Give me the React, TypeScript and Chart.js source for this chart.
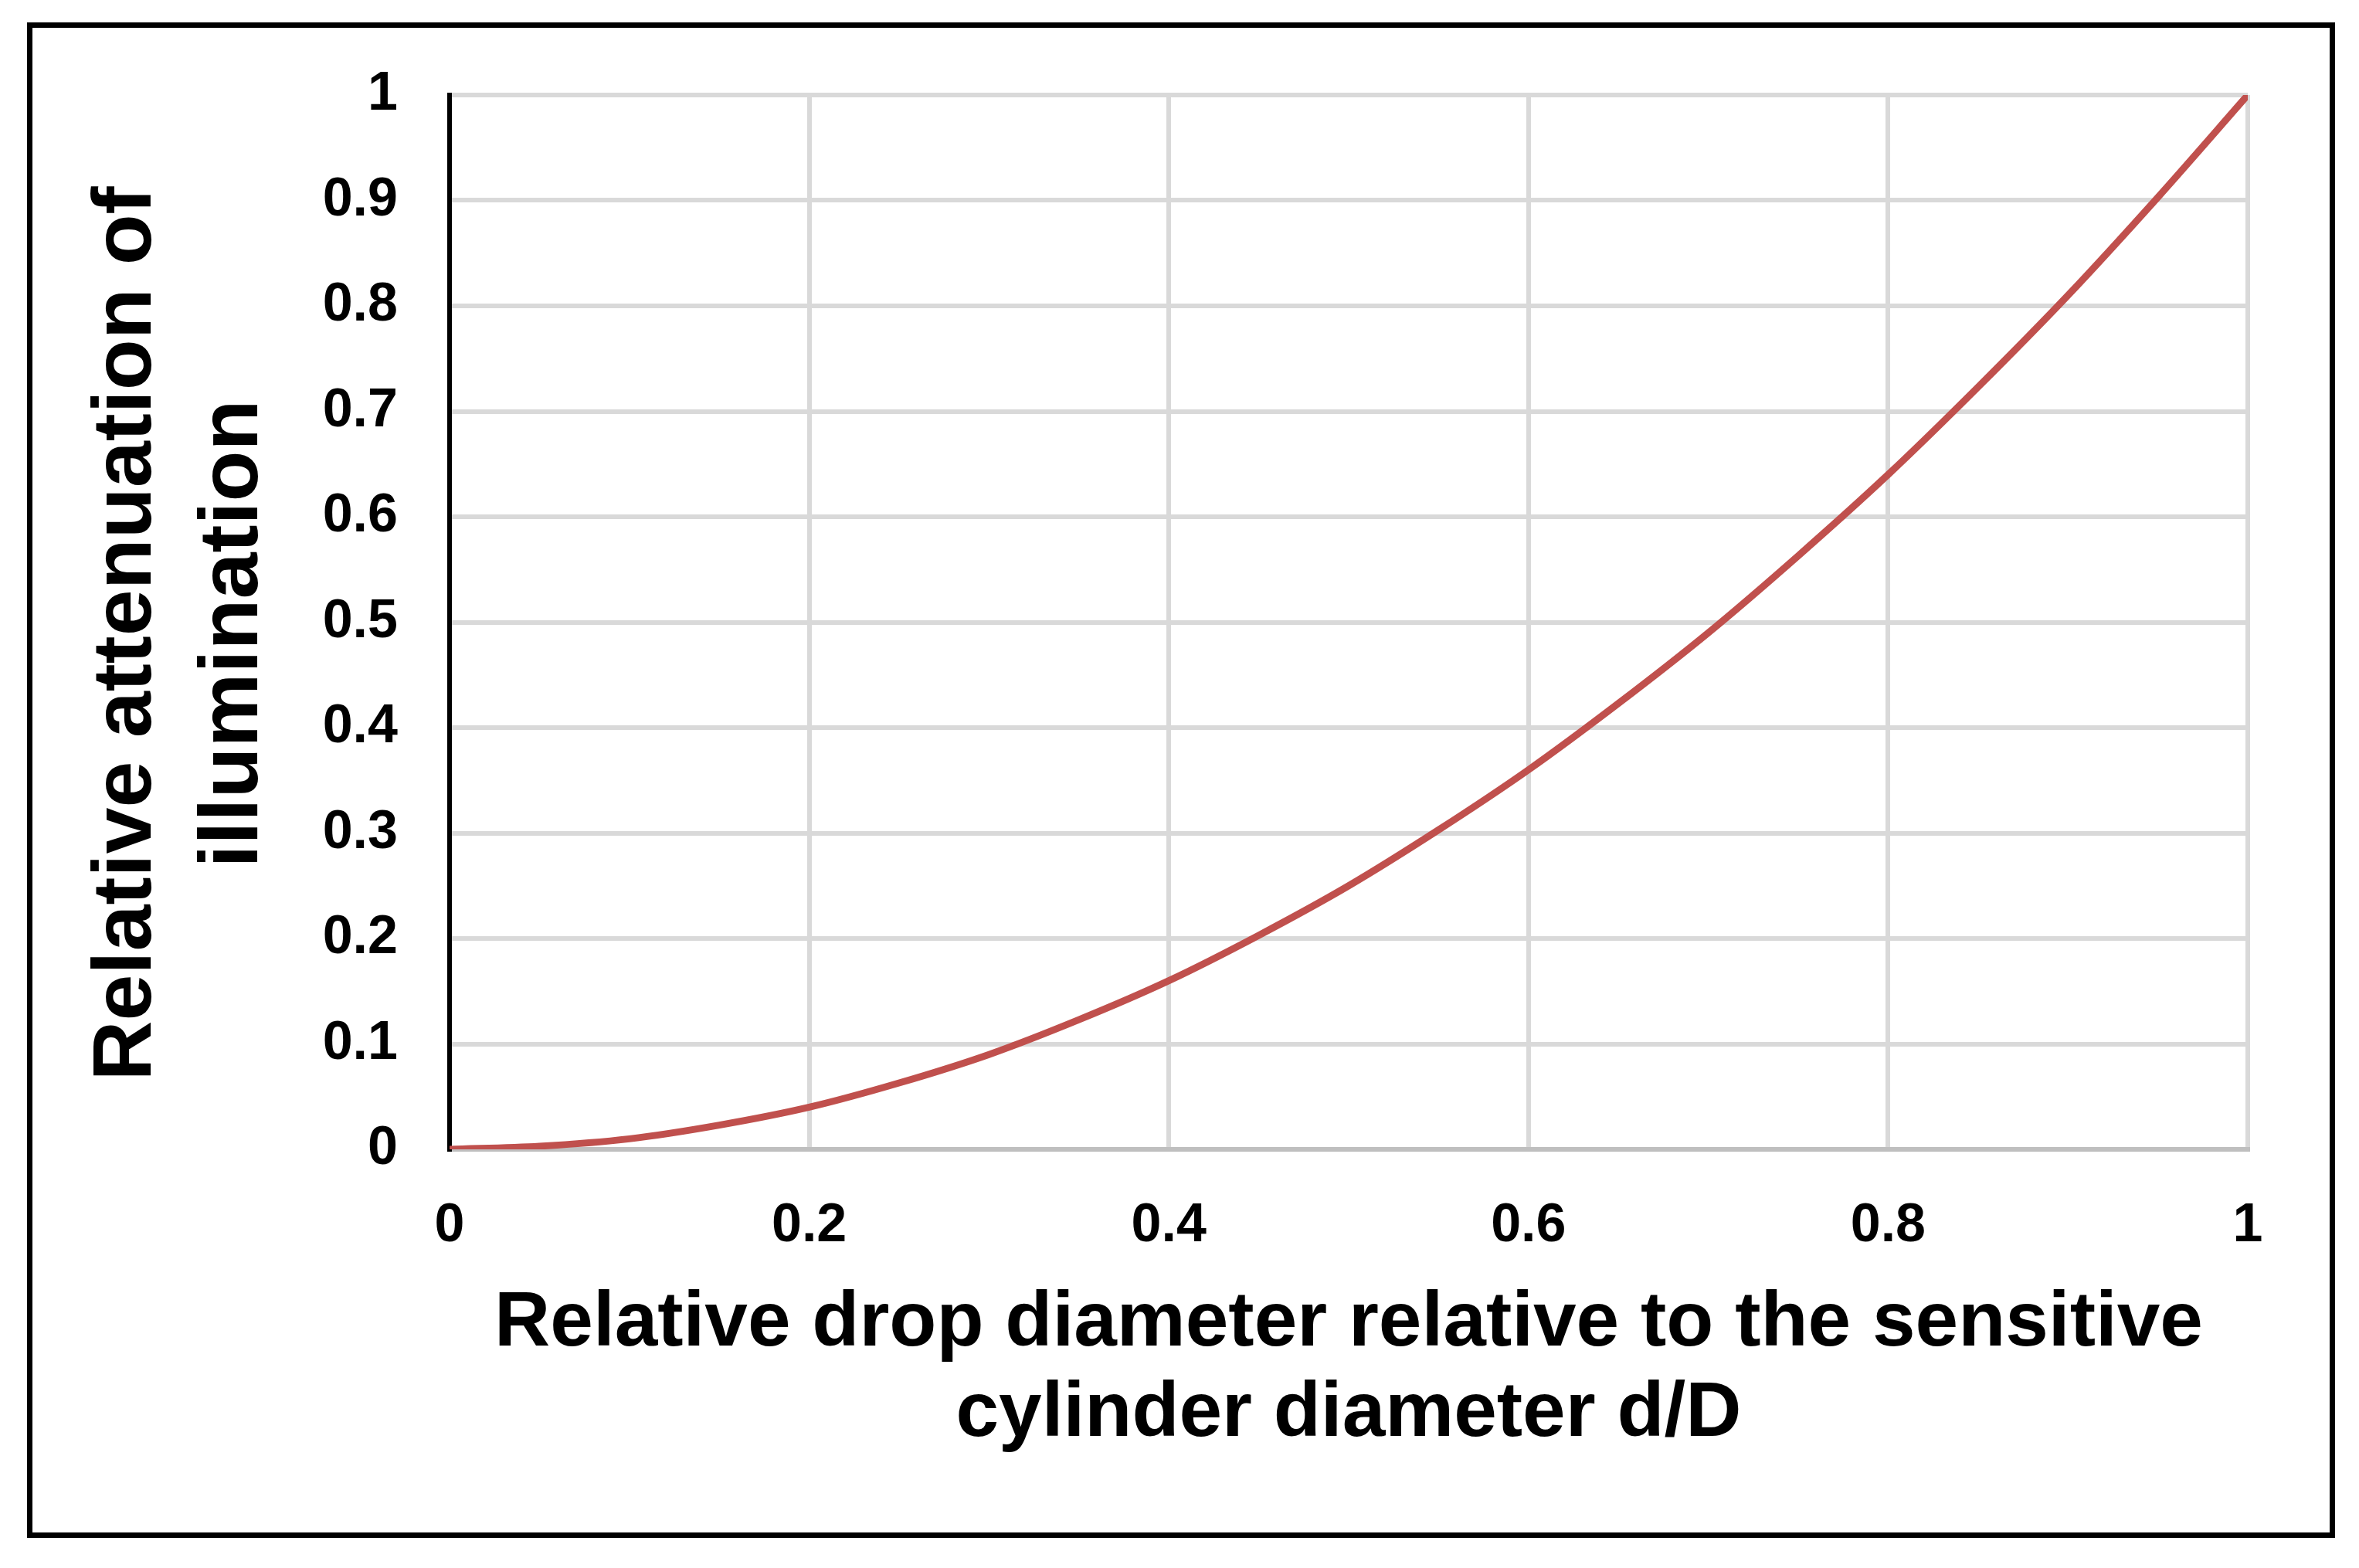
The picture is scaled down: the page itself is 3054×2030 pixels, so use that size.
import React, { useEffect, useRef } from "react";
import { Chart, registerables } from "chart.js";

Chart.register(...registerables);

const xValues = [0, 0.05, 0.1, 0.15, 0.2, 0.25, 0.3, 0.35, 0.4, 0.45, 0.5, 0.55, 0.6, 0.65, 0.7, 0.75, 0.8, 0.85, 0.9, 0.95, 1];
const yValues = [0, 0.003, 0.01, 0.023, 0.04, 0.063, 0.09, 0.123, 0.16, 0.203, 0.25, 0.303, 0.36, 0.423, 0.49, 0.563, 0.64, 0.723, 0.81, 0.903, 1];
const xTitle = ["Relative drop diameter relative to the sensitive", "cylinder diameter d/D"];
const yTitle = ["Relative attenuation of ", "illumination "];
const seriesColor = "#c0504d";

const W = 2974;
const H = 1948;

export default function App() {
  const ref = useRef<HTMLCanvasElement | null>(null);

  useEffect(() => {
    document.body.style.margin = "0";
    const canvas = ref.current!;
    const chart = new Chart(canvas, {
      type: "line",
      data: {
        datasets: [
          {
            data: xValues.map((x, i) => ({ x, y: yValues[i] })),
            borderColor: seriesColor,
            borderWidth: 9,
            pointRadius: 0,
            tension: 0.4,
            cubicInterpolationMode: "monotone",
            fill: false,
          },
        ],
      },
      options: {
        animation: false,
        responsive: false,
        maintainAspectRatio: false,
        devicePixelRatio: 1,
        layout: { padding: { top: 87, right: 106, left: 0, bottom: 0 } },
        plugins: { legend: { display: false }, tooltip: { enabled: false } },
        scales: {
          x: {
            type: "linear",
            min: 0,
            max: 1,
            afterFit: (s: any) => {
              s.height = 496;
              s.paddingLeft = 0;
              s.paddingRight = 0;
            },
            ticks: {
              stepSize: 0.2,
              padding: 58,
              color: "#000",
              font: { family: "'Liberation Sans', Arial, sans-serif", size: 70, weight: "bold" },
              maxRotation: 0,
              callback: (v: any) => String(Math.round(Number(v) * 10) / 10),
            },
            grid: { color: "#d9d9d9", lineWidth: 6, drawTicks: false },
            border: { color: "#bfbfbf", width: 6 },
            title: {
              display: true,
              text: xTitle,
              color: "#000",
              font: { family: "'Liberation Sans', Arial, sans-serif", size: 100, weight: "bold", lineHeight: 1.17 },
              padding: { top: 0, bottom: 94 },
            },
          },
          y: {
            type: "linear",
            min: 0,
            max: 1,
            afterFit: (s: any) => {
              s.width = 540;
              s.paddingTop = 0;
              s.paddingBottom = 0;
            },
            ticks: {
              stepSize: 0.1,
              padding: 67,
              color: "#000",
              font: { family: "'Liberation Sans', Arial, sans-serif", size: 70, weight: "bold" },
              callback: (v: any) => String(Math.round(Number(v) * 10) / 10),
            },
            grid: { color: "#d9d9d9", lineWidth: 6, drawTicks: false },
            border: { color: "#000", width: 6 },
            title: {
              display: true,
              text: yTitle,
              color: "#000",
              font: { family: "'Liberation Sans', Arial, sans-serif", size: 108, weight: "bold", lineHeight: 1.27 },
              padding: { top: 55, bottom: 0 },
            },
          },
        },
      },
    });
    return () => chart.destroy();
  }, []);

  return (
    <div style={{ position: "relative", width: 3054, height: 2030, background: "#fff" }}>
      <div
        style={{
          position: "absolute",
          left: 35,
          top: 29,
          width: W,
          height: H,
          border: "7px solid #000",
          background: "#fff",
        }}
      >
        <canvas ref={ref} width={W} height={H} style={{ display: "block", width: W, height: H }} />
      </div>
    </div>
  );
}
